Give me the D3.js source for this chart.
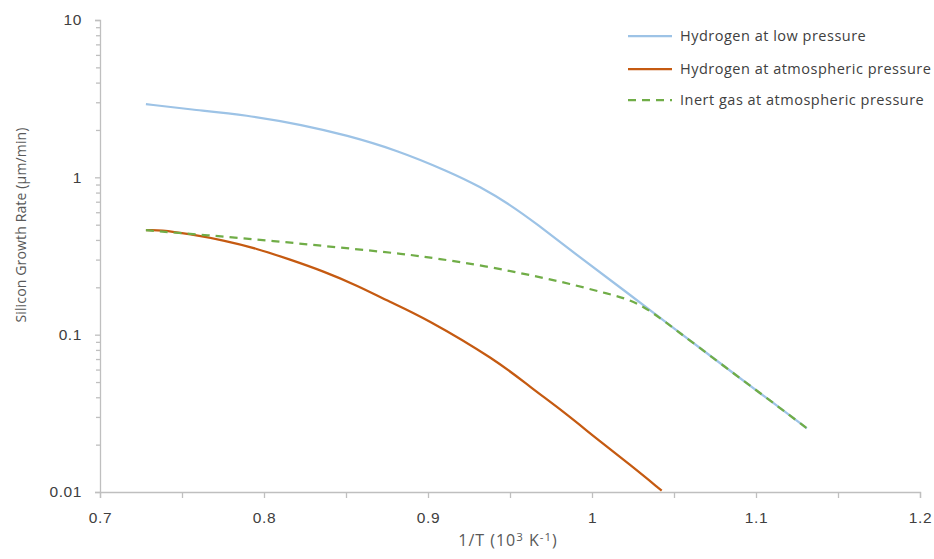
<!DOCTYPE html>
<html>
<head>
<meta charset="utf-8">
<script src="https://cdnjs.cloudflare.com/ajax/libs/d3/7.8.5/d3.min.js"></script>
<style>
    body { margin: 0; background: #ffffff; }
    svg { font-family: "Open Sans", "Liberation Sans", sans-serif; }
</style>
</head>
<body>
<div id="chart"></div>
<script>

// datos (x = 1/T en 10^3 K^-1, y = um/min)
var hidrogenoBajaX = [0.728, 0.755, 0.7895, 0.824, 0.850, 0.881, 0.913, 0.932, 0.950, 0.966, 0.99, 1.02, 1.05, 1.08, 1.11, 1.131];
var hidrogenoBajaY = [2.92, 2.70, 2.49, 2.15, 1.855, 1.49, 1.084, 0.870, 0.670, 0.509, 0.325, 0.19, 0.1094, 0.0636, 0.0372, 0.0254];

var hidrogenoAtmX = [0.728, 0.7366, 0.7549, 0.7752, 0.7955, 0.8159, 0.8362, 0.8565, 0.8768, 0.8971, 0.9419, 0.9622, 0.9825, 1.0029, 1.0232, 1.0425];
var hidrogenoAtmY = [0.461, 0.464, 0.435, 0.3985, 0.3529, 0.3003, 0.2530, 0.2062, 0.1614, 0.1296, 0.0687, 0.0465, 0.0325, 0.0218, 0.0149, 0.0102];

var inerteX = [0.728, 0.7651, 0.8057, 0.8463, 0.887, 0.9053, 0.936, 0.966, 0.986, 1.009, 1.028, 1.05, 1.08, 1.11, 1.131];
var inerteY = [0.461, 0.4287, 0.3945, 0.358, 0.3247, 0.305, 0.272, 0.235, 0.2113, 0.1826, 0.163, 0.1094, 0.0636, 0.0372, 0.0254];

var nombresSeries = ["Hydrogen at low pressure", "Hydrogen at atmospheric pressure", "Inert gas at atmospheric pressure"];
var coloresSeries = ["#9dc3e6", "#c55a11", "#70ad47"];

var ticksX = [0.7, 0.8, 0.9, 1, 1.1, 1.2];
var ticksXMenores = [0.75, 0.85, 0.95, 1.05, 1.15];
var ticksY = [0.01, 0.1, 1, 10];


InicializaGrafico();


function InicializaGrafico() {
    var ancho = 934, alto = 559;
    var margen = { top: 20, right: 14, bottom: 67, left: 100 };

    var svg = d3.select("#chart").append("svg")
        .attr("width", ancho)
        .attr("height", alto);

    var x = d3.scaleLinear()
        .domain([0.7, 1.2])
        .range([margen.left, ancho - margen.right]);

    var y = d3.scaleLog()
        .domain([0.01, 10])
        .range([alto - margen.bottom, margen.top]);

    // ticks menores del eje y (2..9 de cada decada)
    var menoresY = [];
    ticksY.forEach(function (d) {
        if (d < 10) {
            for (var k = 2; k <= 9; k++) menoresY.push(d * k);
        }
    });

    svg.append("g")
        .attr("transform", "translate(" + margen.left + ",0)")
        .call(d3.axisLeft(y).tickValues(ticksY).tickSize(5).tickPadding(13)
            .tickFormat(function (d) { return d3.format("")(d); }));
    svg.append("g")
        .attr("transform", "translate(" + margen.left + ",0)")
        .call(d3.axisLeft(y).tickValues(menoresY).tickSize(4).tickFormat(""))
        .select(".domain").remove();

    svg.append("g")
        .attr("transform", "translate(0," + (alto - margen.bottom) + ")")
        .call(d3.axisBottom(x).tickValues(ticksX).tickSize(6).tickPadding(14)
            .tickFormat(function (d) { return d3.format("")(+d.toFixed(1)); }));
    svg.append("g")
        .attr("transform", "translate(0," + (alto - margen.bottom) + ")")
        .call(d3.axisBottom(x).tickValues(ticksXMenores).tickSize(6).tickFormat(""))
        .select(".domain").remove();

    svg.selectAll(".domain, .tick line")
        .attr("stroke", "#bfbfbf")
        .attr("stroke-width", 1.3);
    svg.selectAll(".tick text")
        .attr("fill", "#404040")
        .style("font-size", "15.5px")
        .style("letter-spacing", "0.6px");

    // titulos de ejes
    svg.append("text")
        .attr("transform", "translate(26,225) rotate(-90)")
        .attr("text-anchor", "middle")
        .attr("fill", "#595959")
        .style("font-size", "14px")
        .style("letter-spacing", "0.15px")
        .text("Silicon Growth Rate (\u00b5m/min)");

    var tituloX = svg.append("text")
        .attr("x", 508)
        .attr("y", 546)
        .attr("text-anchor", "middle")
        .attr("fill", "#595959")
        .style("font-size", "16px")
        .style("letter-spacing", "1px");
    tituloX.append("tspan").text("1/T (10");
    tituloX.append("tspan").attr("dy", -5).style("font-size", "11.5px").text("3");
    tituloX.append("tspan").attr("dy", 5).text(" K");
    tituloX.append("tspan").attr("dy", -5).style("font-size", "11.5px").text("-1");
    tituloX.append("tspan").attr("dy", 5).text(")");

    // lineas suavizadas
    var linea = d3.line()
        .x(function (d) { return x(d[0]); })
        .y(function (d) { return y(d[1]); })
        .curve(d3.curveBasis);

    var series = [
        { datos: d3.zip(hidrogenoBajaX, hidrogenoBajaY), color: coloresSeries[0], guion: null },
        { datos: d3.zip(hidrogenoAtmX, hidrogenoAtmY), color: coloresSeries[1], guion: null },
        { datos: d3.zip(inerteX, inerteY), color: coloresSeries[2], guion: "8,6" }
    ];

    series.forEach(function (s) {
        svg.append("path")
            .datum(s.datos)
            .attr("fill", "none")
            .attr("stroke", s.color)
            .attr("stroke-width", 2.25)
            .attr("stroke-dasharray", s.guion)
            .attr("d", linea);
    });

    // leyenda
    var leyenda = svg.append("g");
    var filas = [36, 69, 100];
    series.forEach(function (s, i) {
        leyenda.append("line")
            .attr("x1", 628).attr("x2", 672)
            .attr("y1", filas[i]).attr("y2", filas[i])
            .attr("stroke", s.color)
            .attr("stroke-width", 2.25)
            .attr("stroke-dasharray", s.guion);
        leyenda.append("text")
            .attr("x", 680)
            .attr("y", filas[i])
            .attr("dy", "0.35em")
            .attr("fill", "#404040")
            .style("font-size", "14.5px")
            .style("letter-spacing", "0.5px")
            .text(nombresSeries[i]);
    });
}
</script>
</body>
</html>
